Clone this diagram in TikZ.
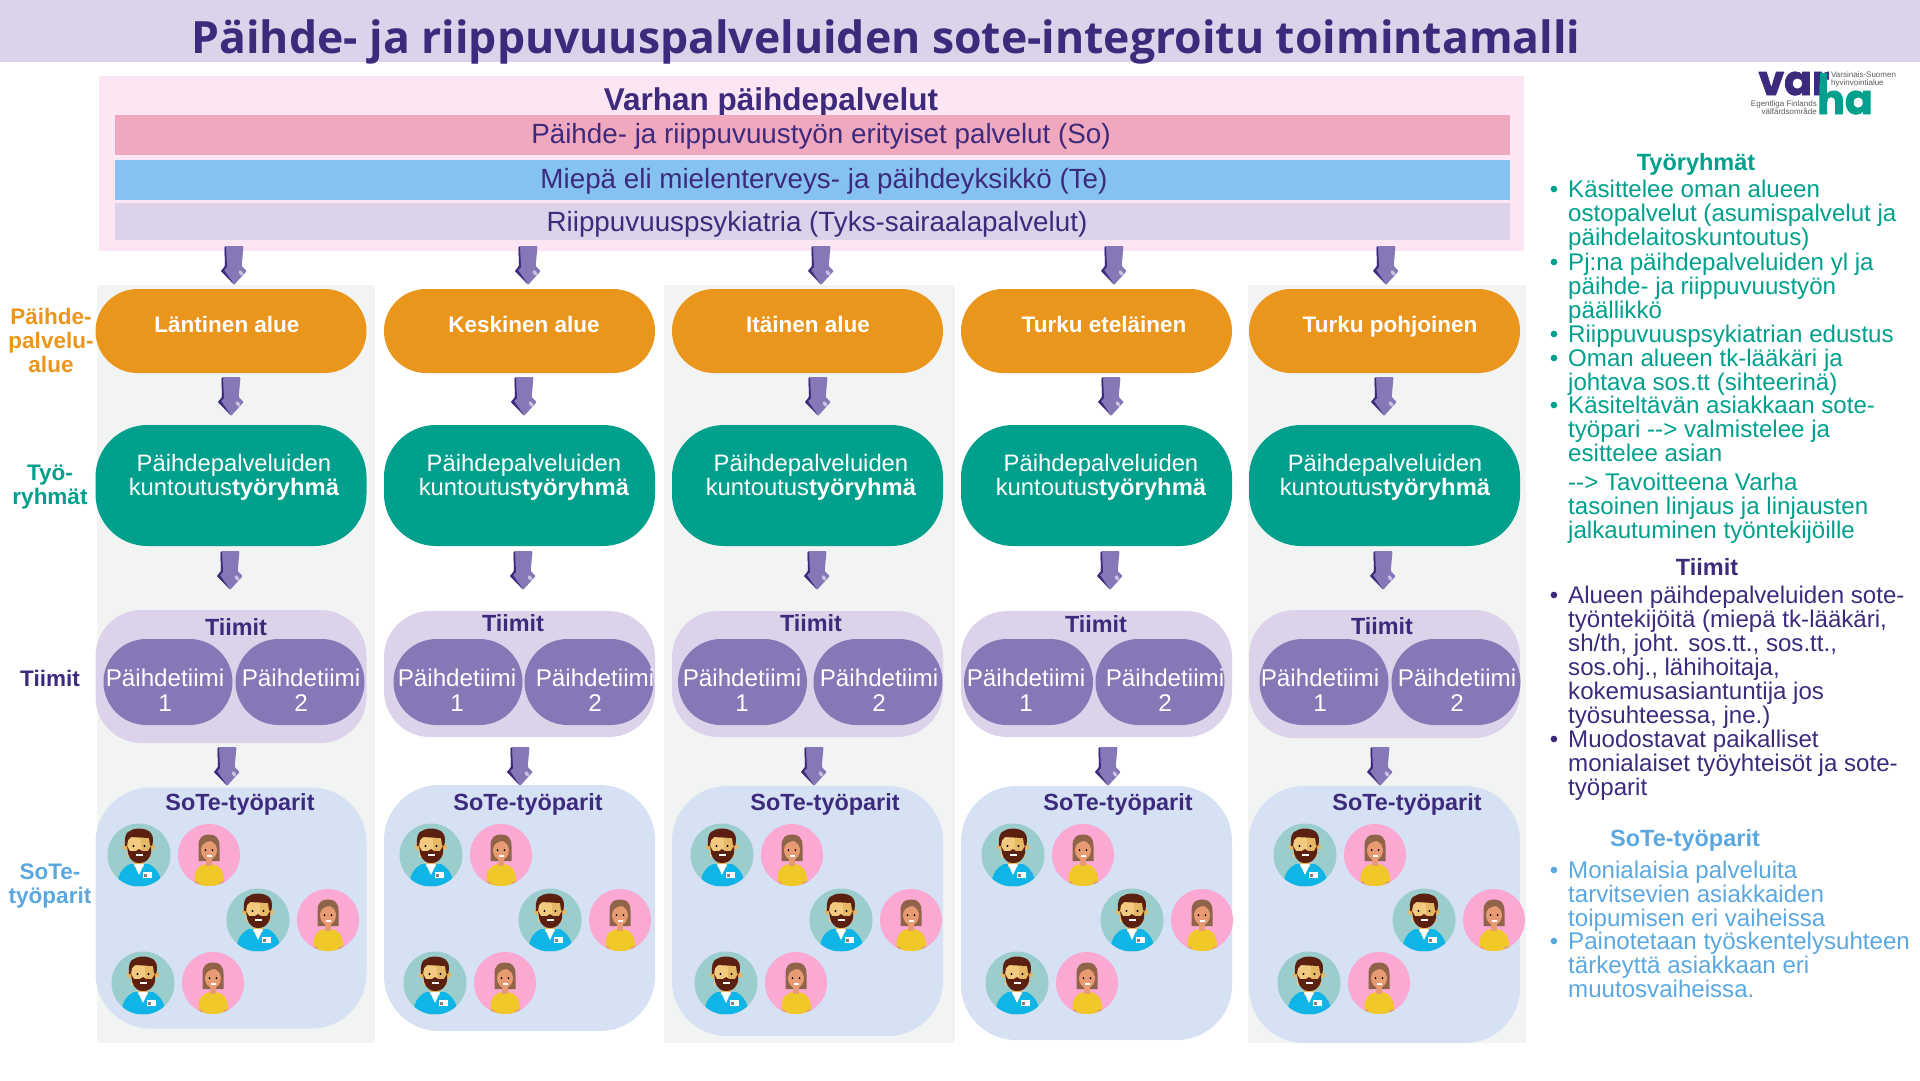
\documentclass[tikz,border=0pt]{standalone}
\usepackage{fontspec}
\setmainfont{Liberation Sans}
\newfontfamily\titlefont{Open Sans}
\newfontfamily\logofont[FakeBold=2]{Poppins}
\definecolor{varhaviolet}{HTML}{3D2A7C}
\definecolor{lilac}{HTML}{DCD2E9}
\definecolor{midviolet}{HTML}{8678B6}
\definecolor{varhagreen}{HTML}{00A08C}
\definecolor{varhaorange}{HTML}{EA951C}
\definecolor{skyblue}{HTML}{5BA8E0}
\definecolor{panelgray}{HTML}{F2F4F4}
\definecolor{panelblue}{HTML}{D6E1F3}
\definecolor{palepink}{HTML}{FCE6F3}
\definecolor{barpink}{HTML}{F0A8BE}
\definecolor{barblue}{HTML}{85C1F1}
\definecolor{mancircle}{HTML}{9BCDCD}
\definecolor{womancircle}{HTML}{FBA8D2}
\definecolor{scrubs}{HTML}{10B5E8}
\definecolor{beard}{HTML}{5C2010}
\definecolor{facelight}{HTML}{F2CB80}
\definecolor{facedark}{HTML}{E5B865}
\definecolor{womanhair}{HTML}{8F6448}
\definecolor{womanskin}{HTML}{E89B72}
\definecolor{sweater}{HTML}{F0C828}
\begin{document}
\begin{tikzpicture}[
    x=1pt, y=-1pt,
    box/.style={draw=none, inner sep=0pt, minimum width=271pt},
    alue/.style={box, fill=varhaorange, minimum height=84pt, rounded corners=42pt},
    ryhma/.style={box, fill=varhagreen, minimum height=121pt, rounded corners=52pt},
    tiimi/.style={box, fill=lilac, rounded corners=46pt},
    pill/.style={box, fill=midviolet, minimum width=129pt, minimum height=86pt, rounded corners=43pt},
    pari/.style={box, fill=panelblue, rounded corners=55pt},
    stripe/.style={inner sep=0pt, minimum width=278pt, fill=panelgray},
    bar/.style={inner sep=0pt, minimum width=1395pt},
    txt/.style={inner sep=0pt, anchor=base},
    bartxt/.style={txt, text=varhaviolet, font=\fontsize{27.8}{27.8}\selectfont},
    aluetxt/.style={txt, text=white, font=\fontsize{22.5}{22.5}\selectfont\bfseries},
    ryhmatxt/.style={inner sep=0pt, align=center, text=white, font=\fontsize{23.8}{24}\selectfont},
    tiimihead/.style={txt, text=varhaviolet, font=\fontsize{23.4}{23.4}\selectfont\bfseries},
    pilltxt/.style={inner sep=0pt, align=center, text=white, font=\fontsize{24.2}{24.5}\selectfont},
    side/.style={inner sep=0pt, align=center, font=\fontsize{22.5}{24}\selectfont\bfseries},
    item/.style={inner sep=0pt, anchor=north west, align=left, font=\fontsize{24.1}{24}\selectfont,
        execute at begin node=\strut},
    pics/downarrow/.style={code={
        \fill[midviolet, rounded corners=1pt] (-9.5,0) -- (9.5,0) -- (7.7,20) -- (12.7,25) -- (0,39) -- (-13,25) -- (-9,20) -- cycle;
        \fill[varhaviolet] (-9.5,1) -- (-8,1) -- (-7,21) -- (-10,24) -- (-1,37) -- (-13,25) -- (-9,20) -- cycle;
        \fill[white, opacity=.55, rotate around={35:(7,27)}] (7,27) ellipse (1.8pt and 3pt);
    }},
    pics/manicon/.style={code={
        \fill[mancircle] (0,0) circle (31.5pt);
        \begin{scope}
            \clip (0,0) circle (31.5pt);
            \fill[scrubs] (-21,31) .. controls (-22,22) and (-18,13) .. (-9,9) -- (10,9) .. controls (18,13) and (23,22) .. (22,31) -- cycle;
        \end{scope}
        \fill[facedark] (-5,0) rectangle (5,12);
        \fill[white] (-5,9) -- (0,20) -- (5,9) -- cycle;
        \fill[facedark] (-13.5,-8) circle (2.8pt) (13.5,-8) circle (2.8pt);
        \fill[facelight] (-12,-20) rectangle (2,2);
        \fill[facedark] (2,-20) rectangle (12,2);
        \fill[beard] (-14,-9) .. controls (-15,-19) and (-12,-24) .. (-9,-24) .. controls (-4,-28) and (8,-27) .. (12,-22) .. controls (15,-18) and (14,-12) .. (13,-9) -- (11,-10) -- (10,-17) -- (-8,-18) -- (-11,-15) -- (-12,-9) -- cycle;
        \fill[beard] (-12,-9) -- (-11,-2) .. controls (-9,6) and (-4,8) .. (0,8) .. controls (5,8) and (10,6) .. (12,-2) -- (12,-9) -- (9,-4) -- (3,-4) -- (0,-6) -- (-3,-4) -- (-9,-4) -- cycle;
        \fill[white] (-3.5,-1) rectangle (3.5,1);
        \fill[black] (-5.5,-9) circle (1.2pt) (5.5,-9) circle (1.2pt);
        \fill[white] (4,17) rectangle (13,23);
        \fill[gray] (5,18.5) rectangle (7.5,21.5);
    }},
    pics/womanicon/.style={code={
        \fill[womancircle] (0,0) circle (31pt);
        \fill[womanhair] (-10.5,6) -- (-10.5,-9) .. controls (-10.5,-18) and (-6,-20.5) .. (0,-20.5) .. controls (6,-20.5) and (10.5,-18) .. (10.5,-9) -- (10.5,6) -- cycle;
        \begin{scope}
            \clip (0,0) circle (31pt);
            \fill[womanskin] (-14,24) rectangle (-9,29) (10,24) rectangle (15,29);
            \fill[sweater] (-14.5,26) .. controls (-15,15) and (-10,10) .. (-3,9) -- (3,9) .. controls (10,10) and (15,15) .. (15,26) -- (10.5,27) -- (10,31) -- (-10,31) -- (-10.5,27) -- cycle;
        \end{scope}
        \fill[womanskin] (-3,2) rectangle (3,11);
        \fill[womanskin] (0,-5) ellipse (8pt and 10pt);
        \fill[womanhair] (-8.5,-5) .. controls (-8,-11) and (-3,-14) .. (2,-14) .. controls (6,-12) and (8,-9) .. (8.5,-5) -- (10,-14) -- (0,-19) -- (-10,-14) -- cycle;
        \fill[black] (-3.5,-5) circle (1pt) (3.5,-5) circle (1pt);
        \fill[white] (-2.5,0) rectangle (2.5,1.5);
    }},
    pics/workpairs/.style={code={
        \pic at (0,0) {manicon};
        \pic at (70,0) {womanicon};
        \pic at (119,65) {manicon};
        \pic at (189,65) {womanicon};
        \pic at (4,128) {manicon};
        \pic at (74,128) {womanicon};
    }}
]
    \useasboundingbox (0,0) rectangle (1920,1080);

    % --- Title ---
    \fill[lilac] (0,0) rectangle (1920,62);
    \node[txt, text=varhaviolet, font=\fontsize{44.5}{44.5}\selectfont\titlefont\bfseries] (title) at (886,53) {Päihde- ja riippuvuuspalveluiden sote-integroitu toimintamalli};

    % --- Varhan services ---
    \fill[palepink] (99,76) rectangle (1524,251);
    \node[txt, text=varhaviolet, font=\fontsize{31.5}{31.5}\selectfont\bfseries] (varhan) at (771,110) {Varhan päihdepalvelut};
    \node[bar, fill=barpink, minimum height=40pt] (bar1) at (812.5,135) {};
    \node[bar, fill=barblue, minimum height=40pt] (bar2) at (812.5,180) {};
    \node[bar, fill=lilac, minimum height=37pt] (bar3) at (812.5,221.5) {};
    \node[bartxt] (bartxt1) at (821,143) {Päihde- ja riippuvuustyön erityiset palvelut (So)};
    \node[bartxt] (bartxt2) at (824,188) {Miepä eli mielenterveys- ja päihdeyksikkö (Te)};
    \node[bartxt] (bartxt3) at (817,231) {Riippuvuuspsykiatria (Tyks-sairaalapalvelut)};

    % --- Column backgrounds ---
    \node[stripe, minimum height=758pt] (stripe1) at (236,664) {};
    \node[stripe, minimum width=291pt, minimum height=758pt] (stripe3) at (809.5,664) {};
    \node[stripe, minimum height=758pt] (stripe5) at (1386.5,664) {};

    % --- Row labels ---
    \node[side, text=varhaorange] (sidealue) at (51,340) {Päihde-\\palvelu-\\alue};
    \node[side, text=varhagreen] (sideryhma) at (50,487) {Työ-\\ryhmät};
    \node[side, text=varhaviolet] (sidetiimi) at (50,678) {Tiimit};
    \node[side, text=skyblue] (sidepari) at (50,886) {SoTe-\\työparit};

    % --- Areas ---
    \node[alue] (alue1) at (231,331) {};
    \node[alue] (alue2) at (519.5,331) {};
    \node[alue] (alue3) at (807.5,331) {};
    \node[alue] (alue4) at (1096.5,331) {};
    \node[alue] (alue5) at (1384.5,331) {};
    \node[aluetxt] (aluetxt1) at (227,332) {Läntinen alue};
    \node[aluetxt] (aluetxt2) at (524,332) {Keskinen alue};
    \node[aluetxt] (aluetxt3) at (808,332) {Itäinen alue};
    \node[aluetxt] (aluetxt4) at (1104,332) {Turku eteläinen};
    \node[aluetxt] (aluetxt5) at (1390,332) {Turku pohjoinen};

    % --- Working groups ---
    \node[ryhma] (ryhma1) at (231,485.5) {};
    \node[ryhma] (ryhma2) at (519.5,485.5) {};
    \node[ryhma] (ryhma3) at (807.5,485.5) {};
    \node[ryhma] (ryhma4) at (1096.5,485.5) {};
    \node[ryhma] (ryhma5) at (1384.5,485.5) {};
    \node[ryhmatxt] (ryhmatxt1) at (234,477) {Päihdepalveluiden\\kuntoutus\textbf{työryhmä}};
    \node[ryhmatxt] (ryhmatxt2) at (524,477) {Päihdepalveluiden\\kuntoutus\textbf{työryhmä}};
    \node[ryhmatxt] (ryhmatxt3) at (811,477) {Päihdepalveluiden\\kuntoutus\textbf{työryhmä}};
    \node[ryhmatxt] (ryhmatxt4) at (1101,477) {Päihdepalveluiden\\kuntoutus\textbf{työryhmä}};
    \node[ryhmatxt] (ryhmatxt5) at (1385,477) {Päihdepalveluiden\\kuntoutus\textbf{työryhmä}};

    % --- Teams ---
    \node[tiimi, minimum height=133pt] (tiimi1) at (231,676.5) {};
    \node[tiimi, minimum height=126pt] (tiimi2) at (519.5,674) {};
    \node[tiimi, minimum height=126pt] (tiimi3) at (807.5,674) {};
    \node[tiimi, minimum height=126pt] (tiimi4) at (1096.5,674) {};
    \node[tiimi, minimum height=128pt] (tiimi5) at (1384.5,674) {};
    \node[tiimihead] (tiimihead1) at (236,635) {Tiimit};
    \node[tiimihead] (tiimihead2) at (513,631) {Tiimit};
    \node[tiimihead] (tiimihead3) at (811,631) {Tiimit};
    \node[tiimihead] (tiimihead4) at (1096,632) {Tiimit};
    \node[tiimihead] (tiimihead5) at (1382,634) {Tiimit};
    \node[pill] (pill11) at (168,682) {};
    \node[pill] (pill12) at (300,682) {};
    \node[pill] (pill21) at (458,682) {};
    \node[pill] (pill22) at (589,682) {};
    \node[pill] (pill31) at (742.5,682) {};
    \node[pill] (pill32) at (878,682) {};
    \node[pill] (pill41) at (1028.5,682) {};
    \node[pill] (pill42) at (1160,682) {};
    \node[pill] (pill51) at (1324,682) {};
    \node[pill] (pill52) at (1456,682) {};
    \node[pilltxt] (pilltxt11) at (165,690) {Päihdetiimi\\1};
    \node[pilltxt] (pilltxt12) at (301,690) {Päihdetiimi\\2};
    \node[pilltxt] (pilltxt21) at (457,690) {Päihdetiimi\\1};
    \node[pilltxt] (pilltxt22) at (595,690) {Päihdetiimi\\2};
    \node[pilltxt] (pilltxt31) at (742,690) {Päihdetiimi\\1};
    \node[pilltxt] (pilltxt32) at (879,690) {Päihdetiimi\\2};
    \node[pilltxt] (pilltxt41) at (1026,690) {Päihdetiimi\\1};
    \node[pilltxt] (pilltxt42) at (1165,690) {Päihdetiimi\\2};
    \node[pilltxt] (pilltxt51) at (1320,690) {Päihdetiimi\\1};
    \node[pilltxt] (pilltxt52) at (1457,690) {Päihdetiimi\\2};

    % --- Work pairs ---
    \node[pari, minimum height=241pt] (pari1) at (231,908) {};
    \node[pari, minimum height=246pt] (pari2) at (519.5,908) {};
    \node[pari, minimum height=250pt] (pari3) at (807.5,911) {};
    \node[pari, minimum height=254pt] (pari4) at (1096.5,913) {};
    \node[pari, minimum height=257pt] (pari5) at (1384.5,914.5) {};
    \node[tiimihead] (parihead1) at (240,810) {SoTe-työparit};
    \node[tiimihead] (parihead2) at (528,810) {SoTe-työparit};
    \node[tiimihead] (parihead3) at (825,810) {SoTe-työparit};
    \node[tiimihead] (parihead4) at (1118,810) {SoTe-työparit};
    \node[tiimihead] (parihead5) at (1407,810) {SoTe-työparit};
    \pic at (139,855) {workpairs};
    \pic at (431,855) {workpairs};
    \pic at (722,855) {workpairs};
    \pic at (1013,855) {workpairs};
    \pic at (1305,855) {workpairs};

    % --- Arrows ---
    \pic at (234,246) {downarrow};
    \pic at (528,246) {downarrow};
    \pic at (821,246) {downarrow};
    \pic at (1114,246) {downarrow};
    \pic at (1386,246) {downarrow};
    \pic at (231,377) {downarrow};
    \pic at (524,377) {downarrow};
    \pic at (818,377) {downarrow};
    \pic at (1111,377) {downarrow};
    \pic at (1384,377) {downarrow};
    \pic at (230,551) {downarrow};
    \pic at (523,551) {downarrow};
    \pic at (817,551) {downarrow};
    \pic at (1110,551) {downarrow};
    \pic at (1383,551) {downarrow};
    \pic at (227,747) {downarrow};
    \pic at (520,747) {downarrow};
    \pic at (814,747) {downarrow};
    \pic at (1108,747) {downarrow};
    \pic at (1380,747) {downarrow};

    % --- Logo ---
    \node[txt, text=varhaviolet, font=\fontsize{41}{41}\selectfont\logofont\bfseries] (logovar) at (1794,95) {var};
    \fill[varhagreen] (1820,73) rectangle (1827,92);
    \node[txt, text=varhagreen, font=\fontsize{41}{41}\selectfont\logofont\bfseries] (logoha) at (1845,114) {ha};
    \node[inner sep=0pt, anchor=north west, align=left, text=black!65, font=\fontsize{8}{8.5}\selectfont] (logofi) at (1831,71) {Varsinais-Suomen\\hyvinvointialue};
    \node[inner sep=0pt, anchor=north east, align=right, text=black!65, font=\fontsize{8}{8.5}\selectfont] (logosv) at (1817,100) {Egentliga Finlands\\välfärdsområde};

    % --- Right column: Työryhmät ---
    \node[txt, text=varhagreen, font=\fontsize{23.5}{24}\selectfont\bfseries] (headryhma) at (1696,170) {Työryhmät};
    \node[item, text=varhagreen] (ryhma-a) at (1568,180) {\llap{\textbullet\hspace{10pt}}Käsittelee oman alueen\\ostopalvelut (asumispalvelut ja\\päihdelaitoskuntoutus)};
    \node[item, text=varhagreen] (ryhma-b) at (1568,253) {\llap{\textbullet\hspace{10pt}}Pj:na päihdepalveluiden yl ja\\päihde- ja riippuvuustyön\\päällikkö};
    \node[item, text=varhagreen] (ryhma-c) at (1568,325) {\llap{\textbullet\hspace{10pt}}Riippuvuuspsykiatrian edustus};
    \node[item, text=varhagreen] (ryhma-d) at (1568,349) {\llap{\textbullet\hspace{10pt}}Oman alueen tk-lääkäri ja\\johtava sos.tt (sihteerinä)};
    \node[item, text=varhagreen] (ryhma-e) at (1568,396) {\llap{\textbullet\hspace{10pt}}Käsiteltävän asiakkaan sote-\\työpari -{}-> valmistelee ja\\esittelee asian};
    \node[item, text=varhagreen] (ryhma-f) at (1568,473) {-{}-> Tavoitteena Varha\\tasoinen linjaus ja linjausten\\jalkautuminen työntekijöille};

    % --- Right column: Tiimit ---
    \node[txt, text=varhaviolet, font=\fontsize{23.5}{24}\selectfont\bfseries] (headtiimi) at (1707,575) {Tiimit};
    \node[item, text=varhaviolet] (tiimi-a) at (1568,586) {\llap{\textbullet\hspace{10pt}}Alueen päihdepalveluiden sote-\\työntekijöitä (miepä tk-lääkäri,\\sh/th, joht. sos.tt., sos.tt.,\\sos.ohj., lähihoitaja,\\kokemusasiantuntija jos\\työsuhteessa, jne.)};
    \node[item, text=varhaviolet] (tiimi-b) at (1568,730) {\llap{\textbullet\hspace{10pt}}Muodostavat paikalliset\\monialaiset työyhteisöt ja sote-\\työparit};

    % --- Right column: SoTe-työparit ---
    \node[txt, text=skyblue, font=\fontsize{23.5}{24}\selectfont\bfseries] (headpari) at (1685,846) {SoTe-työparit};
    \node[item, text=skyblue] (pari-a) at (1568,861) {\llap{\textbullet\hspace{10pt}}Monialaisia palveluita\\tarvitsevien asiakkaiden\\toipumisen eri vaiheissa};
    \node[item, text=skyblue] (pari-b) at (1568,932) {\llap{\textbullet\hspace{10pt}}Painotetaan työskentelysuhteen\\tärkeyttä asiakkaan eri\\muutosvaiheissa.};
\end{tikzpicture}
\end{document}
